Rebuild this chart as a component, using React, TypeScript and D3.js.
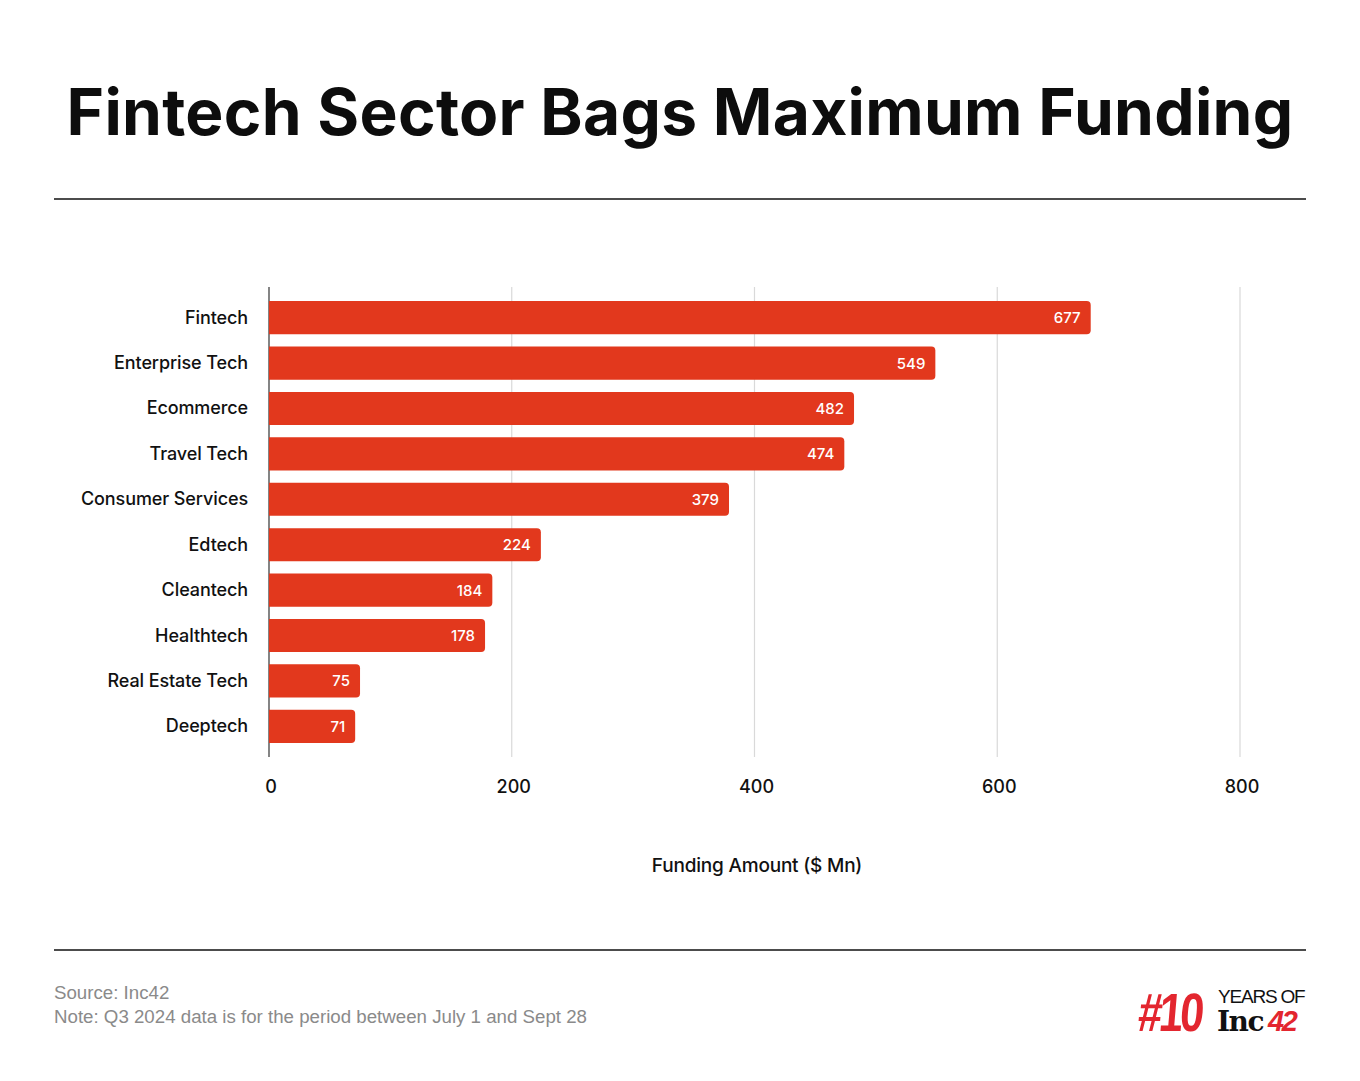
import React from "react";
import * as d3 from "d3";

const categories = [
  "Fintech",
  "Enterprise Tech",
  "Ecommerce",
  "Travel Tech",
  "Consumer Services",
  "Edtech",
  "Cleantech",
  "Healthtech",
  "Real Estate Tech",
  "Deeptech",
];
const values = [677, 549, 482, 474, 379, 224, 184, 178, 75, 71];
const xTicks = [0, 200, 400, 600, 800];

const W = 1360;
const H = 1081;
const RED = "#E2381D";

export default function App() {
  const x = d3.scaleLinear().domain([0, 800]).range([269, 1240]);
  const y = d3
    .scaleBand<string>()
    .domain(categories)
    .range([287, 757])
    .paddingInner(0.27)
    .paddingOuter(0.31);
  const bh = y.bandwidth();
  const r = 4;

  const barPath = (v: number, cat: string) => {
    const x0 = x(0);
    const x1 = x(v);
    const y0 = y(cat)!;
    const y1 = y0 + bh;
    return `M${x0},${y0}H${x1 - r}A${r},${r} 0 0 1 ${x1},${y0 + r}V${y1 - r}A${r},${r} 0 0 1 ${x1 - r},${y1}H${x0}Z`;
  };

  const font = "Inter, 'Noto Sans', sans-serif";
  const foot = "'Liberation Sans', Arial, sans-serif";

  return (
    <svg
      width={W}
      height={H}
      viewBox={`0 0 ${W} ${H}`}
      style={{ display: "block", position: "absolute", left: 0, top: 0, background: "#fff" }}
    >
      <rect x={0} y={0} width={W} height={H} fill="#fff" />
      <text
        x={680}
        y={135}
        textAnchor="middle"
        fontFamily={font}
        fontWeight={700}
        fontSize={64}
        fill="#0d0d0d"
        letterSpacing={0.3}
      >
        Fintech Sector Bags Maximum Funding
      </text>
      <line x1={54} x2={1306} y1={199} y2={199} stroke="#111" strokeWidth={1.3} />
      <line x1={54} x2={1306} y1={950} y2={950} stroke="#111" strokeWidth={1.3} />

      {xTicks.map((t) =>
        t === 0 ? null : (
          <line key={"g" + t} x1={x(t)} x2={x(t)} y1={287} y2={757} stroke="#d9d9d9" strokeWidth={1.2} />
        )
      )}
      <line x1={x(0)} x2={x(0)} y1={287} y2={757} stroke="#333" strokeWidth={1.2} />

      {categories.map((c, i) => (
        <g key={c}>
          <path d={barPath(values[i], c)} fill={RED} />
          <text
            x={x(values[i]) - 10}
            y={y(c)! + bh / 2 + 5.5}
            textAnchor="end"
            fontFamily={font}
            fontWeight={500}
            fontSize={15}
            fill="#fff"
          >
            {values[i]}
          </text>
          <text
            x={248}
            y={y(c)! + bh / 2 + 6}
            textAnchor="end"
            fontFamily={font}
            fontWeight={500}
            fontSize={18}
            fill="#111"
            letterSpacing={-0.1}
          >
            {c}
          </text>
        </g>
      ))}

      {xTicks.map((t) => (
        <text
          key={"t" + t}
          x={x(t) + 2}
          y={793}
          textAnchor="middle"
          fontFamily={font}
          fontWeight={500}
          fontSize={18}
          fill="#111"
        >
          {t}
        </text>
      ))}

      <text
        x={757}
        y={872}
        textAnchor="middle"
        fontFamily={font}
        fontWeight={500}
        fontSize={19}
        fill="#111"
        letterSpacing={-0.2}
      >
        Funding Amount ($ Mn)
      </text>

      <text x={54} y={999} fontFamily={foot} fontSize={18.7} fill="#8a8a8a">
        Source: Inc42
      </text>
      <text x={54} y={1023} fontFamily={foot} fontSize={18.7} fill="#8a8a8a">
        Note: Q3 2024 data is for the period between July 1 and Sept 28
      </text>

      <g>
        <text
          x={0}
          y={0}
          fontFamily={foot}
          fontWeight={700}
          fontSize={54}
          fill="#E3262F"
          letterSpacing={-4}
          transform="translate(1137,1031) scale(0.8,1) skewX(-6)"
        >
          #10
        </text>
        <text x={1218} y={1003} fontFamily={foot} fontSize={19} fill="#111" letterSpacing={-1.2}>
          YEARS OF
        </text>
        <text
          x={1217}
          y={1031}
          fontFamily="'DejaVu Serif', serif"
          fontWeight={700}
          fontSize={28}
          fill="#111"
          letterSpacing={-1.5}
        >
          Inc
        </text>
        <text
          x={1268}
          y={1031}
          fontFamily={foot}
          fontWeight={700}
          fontStyle="italic"
          fontSize={29}
          fill="#E3262F"
          letterSpacing={-2.5}
        >
          42
        </text>
      </g>
    </svg>
  );
}
